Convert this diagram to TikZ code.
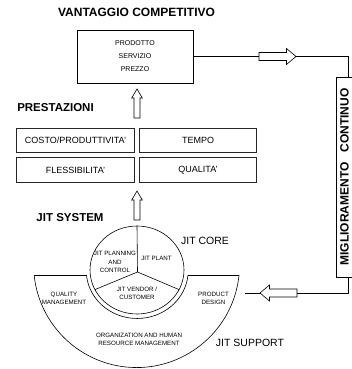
\documentclass[tikz,border=0pt]{standalone}
\usepackage{fontspec}
\setmainfont{Liberation Sans}
\usetikzlibrary{shapes.geometric}
\begin{document}
\begin{tikzpicture}[x=1pt,y=1pt,
  every node/.style={inner sep=0pt, outer sep=0pt},
  headline/.style={font=\fontsize{11.5}{13}\selectfont\bfseries},
  lbl/.style={font=\fontsize{10.5}{12}\selectfont},
  cellbox/.style={draw=black!85, line width=0.9pt, font=\fontsize{9}{10}\selectfont},
  smalltxt/.style={font=\fontsize{6.2}{7.8}\selectfont, align=center},
  conn/.style={line width=0.6pt},
  varrow/.pic={\draw[conn] (-3,0) -- (-3,20) -- (-5.3,20) -- (0,29) -- (5.3,20) -- (3,20) -- (3,0) -- cycle;},
  harrow/.pic={\draw[conn] (0,-4) -- (27.5,-4) -- (27.5,-8) -- (37,0) -- (27.5,8) -- (27.5,4) -- (0,4) -- cycle;},
]
\useasboundingbox (0,0) rectangle (352,369);

% --- competitive advantage -------------------------------------------
\node[font=\fontsize{12}{14}\selectfont\bfseries] (ttl) at (136.5,357) {VANTAGGIO COMPETITIVO};
\node[draw, line width=0.7pt, minimum width=116pt, minimum height=53pt,
      align=center, font=\fontsize{7}{13}\selectfont] (vant) at (135,312.5)
      {PRODOTTO\\SERVIZIO\\PREZZO};

\pic at (137,251) {varrow};

% --- performance -------------------------------------------------------
\node[headline] (prl) at (55.5,261) {PRESTAZIONI};
\node[draw, double, double distance=1.2pt, line width=0.5pt,
      minimum width=243pt, minimum height=58pt] (prest) at (135.5,214) {};
\node[cellbox, minimum width=118pt, minimum height=24pt] (c1) at (75.5,228.5) {COSTO/PRODUTTIVITA'};
\node[cellbox, minimum width=117pt, minimum height=24pt] (c2) at (198,228.5) {TEMPO};
\node[cellbox, minimum width=118pt, minimum height=25pt] (c3) at (75.5,199) {FLESSIBILITA'};
\node[cellbox, minimum width=117pt, minimum height=25pt] (c4) at (198,199) {QUALITA'};

\pic at (137,149) {varrow};

% --- JIT system --------------------------------------------------------
\node[headline] (sys) at (70,151) {JIT SYSTEM};
\node[lbl] (corel) at (205,128) {JIT CORE};
\node[lbl] (supl) at (250,26) {JIT SUPPORT};

% support ring
\draw[conn] (34.16,93.5) -- (86.5,93.5)
  arc[start angle=186, end angle=354, x radius=51, y radius=48]
  -- (239,93.5)
  arc[start angle=353.9, end angle=186.1, radius=103] -- cycle;

% core
\node[draw, ellipse, line width=0.6pt, minimum width=94pt, minimum height=88pt] (core) at (137,99) {};
\coordinate (hub) at (137.5,97);
\draw[conn] (hub) -- (core.north);
\draw[conn] (hub) -- (core.205);
\draw[conn] (hub) -- (core.335);

\node[smalltxt, font=\fontsize{6.2}{8.5}\selectfont] (plan) at (115,107) {JIT PLANNING\\AND\\CONTROL};
\node[smalltxt] (plant) at (156.5,111) {JIT PLANT};
\node[smalltxt] (vend) at (137,75.5) {JIT VENDOR /\\CUSTOMER};
\node[smalltxt] (qual) at (64,71) {QUALITY\\MANAGEMENT};
\node[smalltxt] (prod) at (213.5,71) {PRODUCT\\DESIGN};
\node[smalltxt] (org) at (139,30) {ORGANIZATION AND HUMAN\\RESOURCE MANAGEMENT};

% --- continuous improvement loop -------------------------------------
\node[draw, line width=0.7pt, minimum width=18pt, minimum height=200pt] (migl) at (345,192) {};
\node[rotate=90, font=\fontsize{12}{14}\selectfont\bfseries] (migt) at (344.5,192)
  {MIGLIORAMENTO\hspace{0.55em} CONTINUO};

\coordinate (tArrTail) at (259,312.5);
\coordinate (tArrTip) at (296,312.5);
\coordinate (mTop) at (348,292);
\coordinate (mBot) at (348,92);
\coordinate (bArrTail) at (297,76);
\coordinate (bArrTip) at (260,76);
\coordinate (bEnd) at (245,76);

\pic at (tArrTail) {harrow};
\pic[rotate=180] at (bArrTail) {harrow};

\draw[conn] (vant.east) -- (tArrTail);
\draw[conn] (tArrTip) -| (mTop);
\draw[conn] (mBot) |- (bArrTail);
\draw[conn] (bArrTip) -- (bEnd);
\end{tikzpicture}
\end{document}
